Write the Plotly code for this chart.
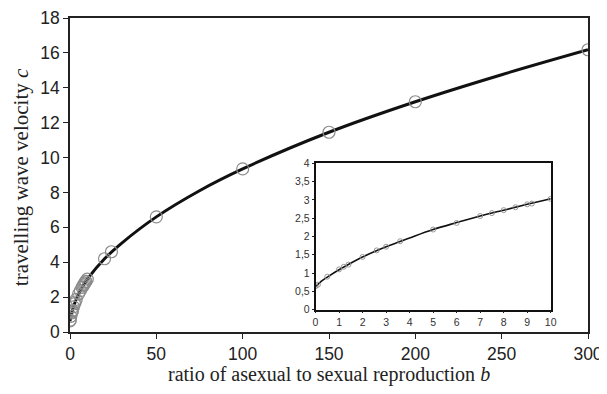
import plotly.graph_objects as go

# simulation points (b, c)
sim_b = [0, 0.1, 0.5, 1, 1.2, 1.4, 2, 2.6, 3, 3.6, 5, 6, 7, 7.5, 8, 8.5, 9, 9.2, 10,
         20, 24, 50, 100, 150, 200, 300]
sim_c = [0.64, 0.68, 0.90, 1.10, 1.17, 1.23, 1.44, 1.62, 1.72, 1.87, 2.19, 2.37, 2.56,
         2.64, 2.72, 2.80, 2.88, 2.90, 3.03,
         4.2, 4.6, 6.6, 9.35, 11.45, 13.2, 16.18]

# theory curve
curve_b = [0, 0.25, 0.5, 1, 2, 3, 4, 5, 6, 7, 8, 9, 10, 20, 30, 50, 75, 100, 150, 200, 250, 300]
curve_c = [0.62, 0.78, 0.89, 1.09, 1.44, 1.72, 1.96, 2.19, 2.38, 2.56, 2.72, 2.88, 3.03,
           4.2, 5.1, 6.6, 8.1, 9.35, 11.45, 13.2, 14.75, 16.18]

main_xticks = [0, 50, 100, 150, 200, 250, 300]
main_yticks = [0, 2, 4, 6, 8, 10, 12, 14, 16, 18]
inset_xticks = [0, 1, 2, 3, 4, 5, 6, 7, 8, 9, 10]
inset_yticks = [0, 0.5, 1, 1.5, 2, 2.5, 3, 3.5, 4]
inset_ytext = ["0", "0,5", "1", "1,5", "2", "2,5", "3", "3,5", "4"]

x_title = "ratio of asexual to sexual reproduction <i>b</i>"
y_title = "travelling wave velocity <i>c</i>"

inset_max = 10
in_b = [b for b in sim_b if b <= inset_max]
in_c = [c for b, c in zip(sim_b, sim_c) if b <= inset_max]
inc_b = [b for b in curve_b if b <= inset_max]
inc_c = [c for b, c in zip(curve_b, curve_c) if b <= inset_max]

fig = go.Figure()
fig.add_trace(go.Scatter(x=curve_b, y=curve_c, mode="lines", line=dict(color="#111", width=3, shape="spline"),
                         xaxis="x", yaxis="y", showlegend=False))
fig.add_trace(go.Scatter(x=sim_b, y=sim_c, mode="markers",
                         marker=dict(symbol="circle-open", size=12, color="#8c8c8c", line=dict(width=1.2)),
                         xaxis="x", yaxis="y", showlegend=False))
fig.add_trace(go.Scatter(x=inc_b, y=inc_c, mode="lines", line=dict(color="#111", width=1.6, shape="spline"),
                         xaxis="x2", yaxis="y2", showlegend=False))
fig.add_trace(go.Scatter(x=in_b, y=in_c, mode="markers",
                         marker=dict(symbol="circle-open", size=5, color="#8c8c8c", line=dict(width=0.9)),
                         xaxis="x2", yaxis="y2", showlegend=False))

tickfont = dict(family="Liberation Sans, Arial, sans-serif", size=17.5, color="#222")
titlefont = dict(family="Liberation Serif, Times New Roman, serif", size=20, color="#222")
ytitlefont = dict(family="Liberation Serif, Times New Roman, serif", size=21, color="#222")
insetfont = dict(family="Liberation Sans, Arial, sans-serif", size=10.5, color="#333")

fig.update_layout(
    width=599, height=386,
    margin=dict(l=62, r=19, t=9.5, b=61.5, autoexpand=False),
    paper_bgcolor="white", plot_bgcolor="white",
    xaxis=dict(range=[0, 300], tickvals=main_xticks, showgrid=False, zeroline=False, automargin=False,
               showline=True, linecolor="#222", linewidth=1.5, mirror=True,
               ticks="outside", ticklen=5, tickcolor="#222", tickfont=tickfont),
    yaxis=dict(range=[0, 18], tickvals=main_yticks, showgrid=False, zeroline=False, automargin=False,
               showline=True, linecolor="#222", linewidth=1.5, mirror=True,
               ticks="outside", ticklen=5, tickcolor="#222", tickfont=tickfont),
    xaxis2=dict(domain=[0.474, 0.928], anchor="y2", range=[0, 10], tickvals=inset_xticks,
                showgrid=False, zeroline=False, showline=True, linecolor="#111", linewidth=1.5, mirror=True,
                ticks="outside", ticklen=2, tickcolor="#222", tickfont=insetfont, automargin=False),
    yaxis2=dict(domain=[0.0714, 0.537], anchor="x2", range=[0, 4], tickvals=inset_yticks, ticktext=inset_ytext,
                showgrid=False, zeroline=False, showline=True, linecolor="#111", linewidth=1.5, mirror=True,
                ticks="outside", ticklen=2, tickcolor="#222", tickfont=insetfont, automargin=False),
    annotations=[
        dict(text=x_title, xref="paper", yref="paper", x=0.5, y=-0.135, xanchor="center", yanchor="middle",
             showarrow=False, font=titlefont),
        dict(text=y_title, xref="paper", yref="paper", x=-0.094, y=0.494, xanchor="center", yanchor="middle",
             textangle=-90, showarrow=False, font=ytitlefont),
    ],
)

fig.write_html("out.html")
